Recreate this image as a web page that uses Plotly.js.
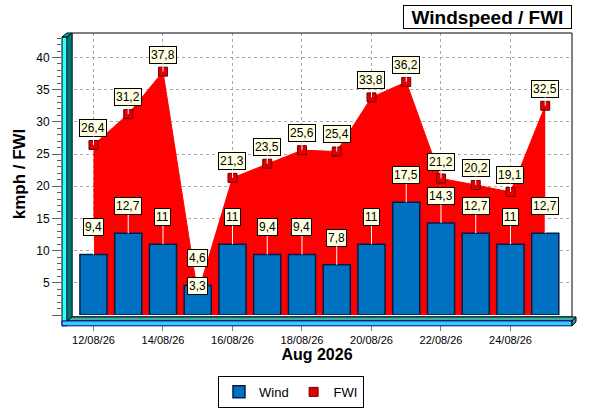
<!DOCTYPE html>
<html>
<head>
<meta charset="utf-8">
<script src="https://cdn.plot.ly/plotly-3.0.1.min.js"></script>
<style>
	body { margin: 0; background: #fff; }
	#windChart { width: 600px; height: 420px; }
</style>
</head>
<body>
<div id="windChart"></div>
<script>
// Daily values
var days = ['12/08/26', '13/08/26', '14/08/26', '15/08/26', '16/08/26', '17/08/26', '18/08/26',
	'19/08/26', '20/08/26', '21/08/26', '22/08/26', '23/08/26', '24/08/26', '25/08/26'];
var wind = [9.4, 12.7, 11, 4.6, 11, 9.4, 9.4, 7.8, 11, 17.5, 14.3, 12.7, 11, 12.7];
var fwi = [26.4, 31.2, 37.8, 3.3, 21.3, 23.5, 25.6, 25.4, 33.8, 36.2, 21.2, 20.2, 19.1, 32.5];

// Axis labels
var xTicks = ['12/08/26', '14/08/26', '16/08/26', '18/08/26', '20/08/26', '22/08/26', '24/08/26'];
var yTicks = [0, 5, 10, 15, 20, 25, 30, 35, 40];
var yTickText = ['', '5', '10', '15', '20', '25', '30', '35', '40'];

var FONT = 'Liberation Sans, Arial, sans-serif';

// pixel -> paper helpers for the fake 3D frame (plot area is 62..572 x 33..320)
function px(p) { return (p - 62) / 510; }
function py(p) { return (320 - p) / 287; }

function fmt(v) { return String(v).replace('.', ','); }

// FWI area (no legend entry) + its markers (legend entry)
var fwiArea = {
	x: days,
	y: fwi,
	name: 'FWI',
	type: 'scatter',
	mode: 'lines',
	fill: 'tozeroy',
	fillcolor: '#FF0000',
	line: { color: '#FF0000', width: 1 },
	showlegend: false,
	hoverinfo: 'none'
};

var fwiPoints = {
	x: days,
	y: fwi,
	name: 'FWI',
	type: 'scatter',
	mode: 'markers',
	marker: { symbol: 'square', size: 9, color: '#E00000', line: { color: '#6A0000', width: 1 } },
	legendrank: 2,
	hoverinfo: 'none'
};

var windTrace = {
	x: days,
	y: wind,
	name: 'Wind',
	type: 'bar',
	width: 0.78,
	marker: { color: '#0070C0', line: { color: '#001E4A', width: 1.5 } },
	xaxis: 'x2',
	yaxis: 'y2',
	legendrank: 1,
	hoverinfo: 'none'
};

// value labels (callout boxes)
var notes = [];
for (let i = 0; i < days.length; i++)
{
	notes.push({
		x: days[i], y: wind[i], xref: 'x', yref: 'y',
		text: fmt(wind[i]),
		showarrow: true, arrowhead: 0, arrowwidth: 1, arrowcolor: '#FFFFFF',
		ax: 0, ay: -27, standoff: 0,
		bgcolor: '#FFFFE1', bordercolor: '#000000', borderwidth: 1, borderpad: 1,
		font: { family: FONT, size: 12, color: '#000000' }
	});
	notes.push({
		x: days[i], y: fwi[i], xref: 'x', yref: 'y',
		text: fmt(fwi[i]),
		showarrow: true, arrowhead: 0, arrowwidth: 1, arrowcolor: '#FFFFFF',
		ax: 0, ay: (fwi[i] < wind[i]) ? -8 : -17, standoff: 0,
		bgcolor: '#FFFFE1', bordercolor: '#000000', borderwidth: 1, borderpad: 1,
		font: { family: FONT, size: 12, color: '#000000' }
	});
}

// chart title in a box
notes.push({
	xref: 'paper', yref: 'paper', x: 1, y: py(17),
	xanchor: 'right', yanchor: 'middle',
	text: '<b>Windspeed / FWI</b>',
	showarrow: false,
	width: 165, height: 20, borderpad: 1,
	bgcolor: '#FFFFFF', bordercolor: '#000000', borderwidth: 1,
	font: { family: FONT, size: 19, color: '#000000' }
});

// walls and floor
var frame = [
	// back wall border
	{ type: 'rect', xref: 'paper', yref: 'paper', x0: px(72), x1: px(572), y0: py(322), y1: py(33),
		line: { color: '#000000', width: 1 }, layer: 'above' },
	// left wall, outer face
	{ type: 'rect', xref: 'paper', yref: 'paper', x0: px(62), x1: px(67), y0: py(331), y1: py(37),
		fillcolor: '#33FFFF', line: { color: '#000000', width: 1 }, layer: 'above' },
	// left wall, inner face
	{ type: 'path', xref: 'paper', yref: 'paper',
		path: 'M' + px(67) + ',' + py(37) + ' L' + px(72) + ',' + py(33) + ' L' + px(72) + ',' + py(322) +
			' L' + px(67) + ',' + py(326) + ' Z',
		fillcolor: '#007878', line: { color: '#003030', width: 1 }, layer: 'above' },
	// left wall cap
	{ type: 'path', xref: 'paper', yref: 'paper',
		path: 'M' + px(62) + ',' + py(37) + ' L' + px(67) + ',' + py(33) + ' L' + px(72) + ',' + py(33) +
			' L' + px(67) + ',' + py(37) + ' Z',
		fillcolor: '#00A8A8', line: { color: '#000000', width: 1 }, layer: 'above' },
	// floor, top face
	{ type: 'path', xref: 'paper', yref: 'paper',
		path: 'M' + px(67) + ',' + py(326) + ' L' + px(72) + ',' + py(322) + ' L' + px(576) + ',' + py(322) +
			' L' + px(572) + ',' + py(326) + ' Z',
		fillcolor: '#3AB4A8', line: { color: '#000000', width: 1 }, layer: 'above' },
	// floor, front face
	{ type: 'rect', xref: 'paper', yref: 'paper', x0: px(62), x1: px(572), y0: py(331), y1: py(326),
		fillcolor: '#33CCF5', line: { color: '#0000A0', width: 1 }, layer: 'above' },
	// floor, right end
	{ type: 'path', xref: 'paper', yref: 'paper',
		path: 'M' + px(572) + ',' + py(326) + ' L' + px(576) + ',' + py(322) + ' L' + px(576) + ',' + py(327) +
			' L' + px(572) + ',' + py(331) + ' Z',
		fillcolor: '#1E9A9A', line: { color: '#000000', width: 1 }, layer: 'above' }
];

var xRange = [-0.906, 13.77];
var yRange = [0, 43.8];

var layout = {
	width: 600,
	height: 420,
	margin: { l: 62, r: 28, t: 33, b: 100 },
	paper_bgcolor: '#FFFFFF',
	plot_bgcolor: '#FFFFFF',
	font: { family: FONT, size: 12, color: '#000000' },
	separators: ', ',
	showlegend: true,
	legend: {
		orientation: 'h',
		x: 0.449, xanchor: 'center',
		y: py(382), yanchor: 'top',
		bgcolor: '#FFFFFF', bordercolor: '#000000', borderwidth: 1,
		itemwidth: 30,
		font: { family: FONT, size: 13, color: '#000000' }
	},
	xaxis: {
		type: 'category',
		range: xRange,
		tickmode: 'array',
		tickvals: xTicks,
		ticktext: xTicks,
		ticks: 'outside', ticklen: 15, tickcolor: '#808080',
		tickfont: { family: FONT, size: 11, color: '#000000' },
		showgrid: true, gridcolor: '#A8A8A8', griddash: 'dot', gridwidth: 1,
		showline: false, zeroline: false, fixedrange: true,
		title: { text: '<b>Aug 2026</b>', standoff: 2, font: { family: FONT, size: 16, color: '#000000' } }
	},
	yaxis: {
		range: yRange,
		tickmode: 'array',
		tickvals: yTicks,
		ticktext: yTickText,
		ticks: 'outside', ticklen: 9, tickcolor: '#606060',
		minor: { tickmode: 'linear', tick0: 0, dtick: 1, ticks: 'outside', ticklen: 4, tickcolor: '#606060', showgrid: false },
		tickfont: { family: FONT, size: 12, color: '#000000' },
		showgrid: true, gridcolor: '#A8A8A8', griddash: 'dot', gridwidth: 1,
		showline: false, zeroline: false, fixedrange: true,
		title: { text: '<b>kmph / FWI</b>', standoff: 6, font: { family: FONT, size: 17, color: '#000000' } }
	},
	xaxis2: {
		type: 'category', overlaying: 'x', anchor: 'y2', range: xRange,
		visible: false, showgrid: false, fixedrange: true
	},
	yaxis2: {
		overlaying: 'y', anchor: 'x2', range: yRange,
		visible: false, showgrid: false, fixedrange: true
	},
	annotations: notes,
	shapes: frame
};

Plotly.newPlot('windChart', [fwiArea, fwiPoints, windTrace], layout, { displayModeBar: false, staticPlot: true });
</script>
</body>
</html>
